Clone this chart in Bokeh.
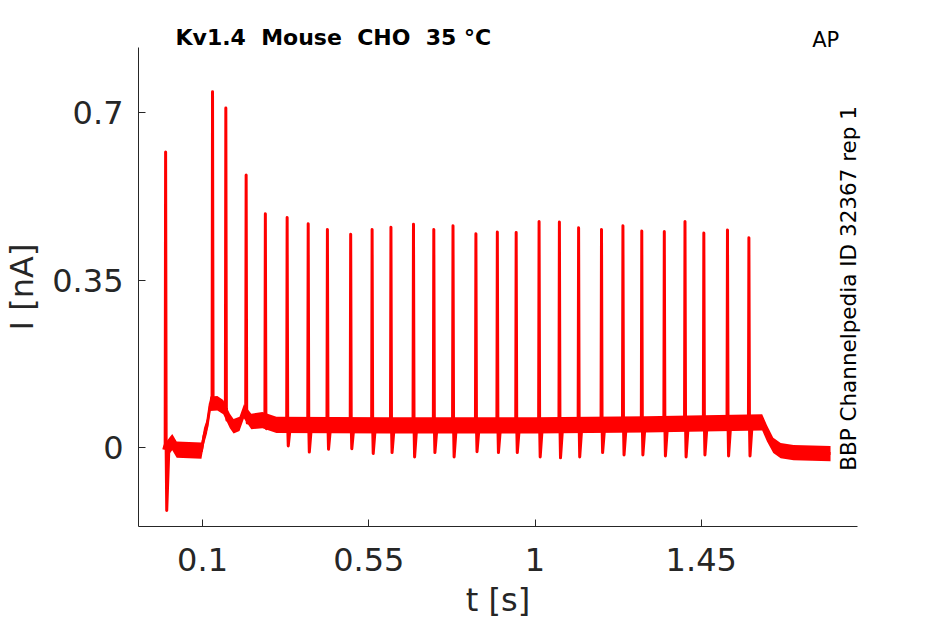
import numpy as np
from math import pi
from bokeh.plotting import figure
from bokeh.models import Range1d, FixedTicker, LinearAxis
from bokeh.embed import file_html
from bokeh.resources import INLINE

# ---- data ----
spike_t = [0.000, 0.127, 0.163, 0.218, 0.270, 0.329, 0.386, 0.438, 0.501, 0.559,
           0.610, 0.671, 0.726, 0.778, 0.840, 0.898, 0.949, 1.011, 1.066, 1.118,
           1.180, 1.238, 1.289, 1.350, 1.406, 1.457, 1.521, 1.579]
spike_peak = [0.618, 0.744, 0.710, 0.570, 0.489, 0.481, 0.468, 0.456, 0.446, 0.456,
              0.461, 0.467, 0.456, 0.464, 0.447, 0.451, 0.450, 0.473, 0.472, 0.460,
              0.456, 0.464, 0.453, 0.452, 0.473, 0.449, 0.455, 0.439]
spike_trough = [-0.131, 0.085, 0.058, 0.052, 0.040, 0.004, -0.009, -0.003, -0.002, -0.012,
                -0.010, -0.019, -0.010, -0.019, -0.008, -0.010, -0.010, -0.019, -0.021, -0.019,
                -0.010, -0.015, -0.015, -0.017, -0.019, -0.015, -0.017, -0.017]

base_t = [0.002, 0.018, 0.030, 0.097, 0.104, 0.112, 0.121, 0.140, 0.156, 0.174,
          0.184, 0.200, 0.212, 0.232, 0.262, 0.300, 0.600, 1.000, 1.300, 1.615,
          1.628, 1.645, 1.665, 1.700, 1.800]
base_v = [-0.004, 0.012, -0.004, -0.006, 0.025, 0.045, 0.092, 0.093, 0.085, 0.056,
          0.045, 0.050, 0.076, 0.055, 0.058, 0.048, 0.047, 0.047, 0.049, 0.053,
          0.030, 0.005, -0.006, -0.010, -0.012]
base_hw = [0.017, 0.017, 0.017, 0.017, 0.017, 0.015, 0.015, 0.015, 0.015, 0.015,
           0.015, 0.015, 0.015, 0.016, 0.017, 0.017, 0.017, 0.017, 0.017, 0.017,
           0.017, 0.016, 0.016, 0.016, 0.016]

x_ticks = [0.1, 0.55, 1.0, 1.45]
x_tick_labels = ["0.1", "0.55", "1", "1.45"]
y_ticks = [0.0, 0.35, 0.7]
y_tick_labels = ["0", "0.35", "0.7"]

TITLE = "Kv1.4 \u00a0Mouse \u00a0CHO \u00a035 °C"
TAG = "AP"
SOURCE = "BBP Channelpedia ID 32367 rep 1"

# ---- assemble the trace polyline from the read values ----
bt = np.array(base_t)
bv = np.array(base_v)
pts = []
keep = np.ones(len(bt), dtype=bool)
for ts in spike_t:
    keep &= ~((bt > ts - 0.006) & (bt < ts + 0.010))
for t, v in zip(bt[keep], bv[keep]):
    pts.append((t, v))
for ts, pk, tr in zip(spike_t, spike_peak, spike_trough):
    b_pre = float(np.interp(ts - 0.005, bt, bv))
    b_post = float(np.interp(ts + 0.009, bt, bv))
    pts += [(ts - 0.005, b_pre), (ts - 0.0012, b_pre + 0.012), (ts, pk),
            (ts + 0.0015, b_pre), (ts + 0.003, tr), (ts + 0.009, b_post)]
pts.sort(key=lambda p: p[0])
tr_t = [p[0] for p in pts]
tr_v = [p[1] for p in pts]

# ---- figure ----
p = figure(width=945, height=624,
           x_range=Range1d(-0.0734, 1.873), y_range=Range1d(-0.1644, 0.8364),
           output_backend="svg", toolbar_location=None,
           min_border_left=138, min_border_right=88,
           min_border_top=47, min_border_bottom=98,
           title=TITLE)
p.title.text_font = "DejaVu Sans"
p.title.text_font_style = "bold"
p.title.text_font_size = "22px"
p.title.text_color = "black"
p.title.align = "left"
p.title.offset = 37
p.title.standoff = -50
p.title.vertical_align = "bottom"
p.outline_line_color = None
p.grid.visible = False
p.background_fill_color = "white"
p.border_fill_color = "white"

RED = "#ff0000"
p.varea(x=base_t, y1=list(bv - np.array(base_hw)), y2=list(bv + np.array(base_hw)),
        fill_color=RED, fill_alpha=1.0)
p.line(tr_t, tr_v, line_color=RED, line_width=3, line_join="round")

AX = "#262626"
for ax, ticks, labels, lab in ((p.xaxis, x_ticks, x_tick_labels, "t [s]"),
                               (p.yaxis, y_ticks, y_tick_labels, "I [nA]")):
    ax.ticker = FixedTicker(ticks=ticks, minor_ticks=[])
    ax.major_label_overrides = {k: v for k, v in zip(ticks, labels)}
    ax.axis_label = lab
    ax.axis_line_color = AX
    ax.axis_line_width = 1
    ax.major_tick_line_color = AX
    ax.major_tick_in = 7
    ax.major_tick_out = 0
    ax.minor_tick_line_color = None
    ax.major_label_text_font = "DejaVu Sans"
    ax.major_label_text_font_size = "32px"
    ax.major_label_text_color = AX
    ax.axis_label_text_font = "DejaVu Sans"
    ax.axis_label_text_font_size = "32px"
    ax.axis_label_text_font_style = "normal"
    ax.axis_label_text_color = AX

p.xaxis.major_label_standoff = 21
p.xaxis.axis_label_standoff = 7
p.yaxis.major_label_standoff = 15
p.yaxis.axis_label_standoff = 8


def text_axis(tick, label, size, standoff, orientation="horizontal"):
    ax = LinearAxis(ticker=FixedTicker(ticks=[tick], minor_ticks=[]),
                    major_label_overrides={tick: label})
    ax.axis_line_color = None
    ax.major_tick_line_color = None
    ax.minor_tick_line_color = None
    ax.major_tick_in = 0
    ax.major_tick_out = 0
    ax.major_label_standoff = standoff
    ax.major_label_text_font = "DejaVu Sans"
    ax.major_label_text_font_size = size
    ax.major_label_text_color = "black"
    ax.major_label_orientation = orientation
    return ax


# "AP" tag above the top-right corner
p.add_layout(text_axis(1.787, TAG, "21px", -4), "above")
# source note along the right edge, reading upward
p.add_layout(text_axis(0.393, SOURCE, "21.5px", -9, pi / 2), "right")

open("out.html", "w").write(file_html(p, INLINE))
